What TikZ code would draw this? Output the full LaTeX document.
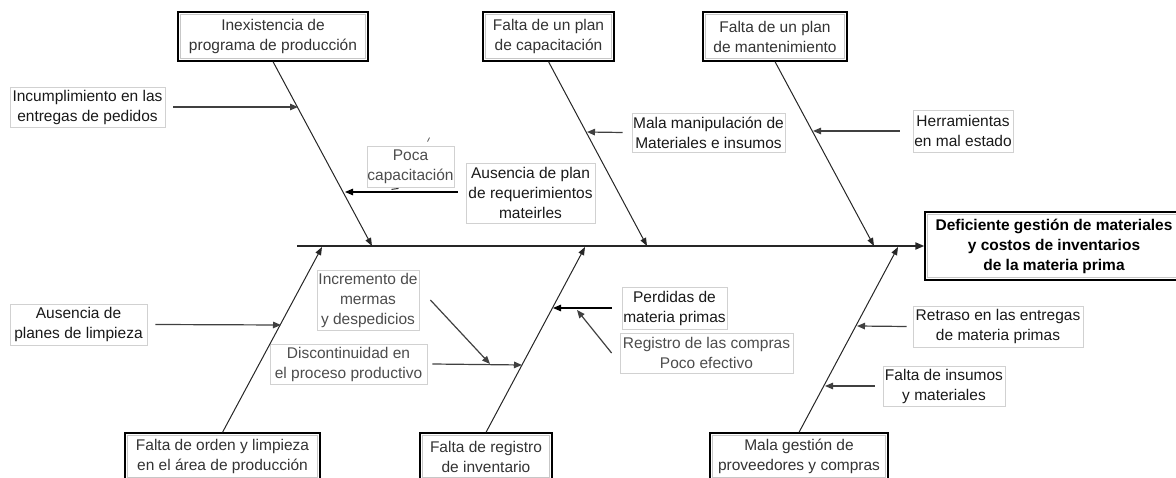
\documentclass[tikz,border=0pt]{standalone}
\usepackage{fontspec}
\setmainfont{Liberation Sans}
\usetikzlibrary{arrows.meta,calc}
\begin{document}
\begin{tikzpicture}[x=1pt,y=-1pt,
  every node/.style={font=\fontsize{15.5}{20}\selectfont, align=center, inner sep=0pt},
  major/.style={draw=black, line width=1.3pt, minimum height=49pt, text=black!80},
  minor/.style={draw=black!18, line width=0.8pt, text=black!90},
  greytext/.style={text=black!70},
  bone/.style={line width=1pt, draw=black!85, -{Triangle[length=8pt,width=6pt]}},
  arr/.style={line width=1.2pt, draw=black!75, -{Triangle[length=8pt,width=6.5pt]}},
  spine/.style={line width=1.8pt, draw=black!85, -{Triangle[length=9pt,width=7pt]}}]
\useasboundingbox (0,0) rectangle (1176,478);
\clip (0,0) rectangle (1176,478);

% major cause boxes
\node[major, minimum width=190pt] (c1) at (273,36.5) {Inexistencia de\\programa de producción};
\node[major, minimum width=131pt] (c2) at (548.5,36.5) {Falta de un plan\\de capacitación};
\node[major, minimum width=144pt] (c3) at (775,36.5) {Falta de un plan\\de mantenimiento};
\node[major, minimum width=195pt, minimum height=47pt] (c4) at (222.5,456.5) {Falta de orden y limpieza\\en el área de producción};
\node[major, minimum width=132pt, minimum height=47pt] (c5) at (486,456.5) {Falta de registro\\de inventario};
\node[major, minimum width=178pt, minimum height=47pt] (c6) at (799,456.5) {Mala gestión de\\proveedores y compras};
% effect
\node[major, minimum width=258pt, minimum height=68pt, text=black, font=\fontsize{15.5}{20}\selectfont\bfseries] (eff) at (1054,246) {Deficiente gestión de materiales\\y costos de inventarios\\de la materia prima};
\foreach \n in {c1,c2,c3,c4,c5,c6,eff}
  \draw[black!22, line width=0.8pt] ([shift={(3pt,-3pt)}]\n.north west) rectangle ([shift={(-3pt,3pt)}]\n.south east);

% minor boxes
\node[minor, minimum width=155pt, minimum height=40pt] (inc) at (87.5,107) {Incumplimiento en las\\entregas de pedidos};
\node[minor, greytext, minimum width=87pt, minimum height=41pt] (poca) at (410.5,166.5) {Poca\\capacitación};
\node[minor, minimum width=129pt, minimum height=60pt] (ausreq) at (530.5,193) {Ausencia de plan\\de requerimientos\\mateirles};
\node[minor, minimum width=153pt, minimum height=39pt] (mala) at (708.5,132.5) {Mala manipulación de\\Materiales e insumos};
\node[minor, minimum width=100pt, minimum height=42pt] (herr) at (963,131) {Herramientas\\en mal estado};
\node[minor, minimum width=137pt, minimum height=41pt] (auslimp) at (78.5,324.5) {Ausencia de\\planes de limpieza};
\node[minor, greytext, minimum width=102pt, minimum height=60pt] (incr) at (368,300) {Incremento de\\mermas\\y despedicios};
\node[minor, greytext, minimum width=157pt, minimum height=40pt] (disc) at (348.5,364) {Discontinuidad en\\el proceso productivo};
\node[minor, minimum width=105pt, minimum height=42pt] (perd) at (674.5,308) {Perdidas de\\materia primas};
\node[minor, greytext, minimum width=173pt, minimum height=40pt] (reg) at (706.5,353) {Registro de las compras\\Poco efectivo};
\node[minor, minimum width=170pt, minimum height=41pt] (retr) at (998,326.5) {Retraso en las entregas\\de materia primas};
\node[minor, minimum width=122pt, minimum height=40pt] (falt) at (944,386) {Falta de insumos\\y materiales};

% spine and bone endpoints
\coordinate (s0) at (297,246);
\coordinate (s1) at (372,246);
\coordinate (s2) at (647,246);
\coordinate (s3) at (874,246);
\coordinate (s4) at (322,247);
\coordinate (s5) at (585,247);
\coordinate (s6) at (898,247);
\draw[spine] (s0) -- (eff.west);
\draw[bone] (c1.south) -- (s1);
\draw[bone] (c2.south) -- (s2);
\draw[bone] (c3.south) -- (s3);
\draw[bone] (c4.north) -- (s4);
\draw[bone] (c5.north) -- (s5);
\draw[bone] (c6.north) -- (s6);

% points on bones
\coordinate (p1) at (298,107);
\coordinate (p2) at (345,192);
\coordinate (p3) at (587,132);
\coordinate (p4) at (813,131);
\coordinate (p5) at (281,325);
\coordinate (p6) at (490,364);
\coordinate (p7) at (522,365);
\coordinate (p8) at (553,308);
\coordinate (p9) at (577,310);
\coordinate (p10) at (857,326);
\coordinate (p11) at (825,386);

\draw[arr] ([xshift=8pt]inc.east) -- (p1);
\draw[arr, draw=black] ([xshift=-8pt]ausreq.west |- p2) -- (p2);
\draw[arr] ([xshift=-9pt]mala.west) -- (p3);
\draw[arr] ([xshift=-13pt]herr.west) -- (p4);
\draw[arr] ([xshift=8pt]auslimp.east) -- (p5);
\draw[arr] ([xshift=11pt]incr.east) -- (p6);
\draw[arr] ([xshift=5pt]disc.east) -- (p7);
\draw[arr, draw=black] ([xshift=-10pt]perd.west) -- (p8);
\draw[arr] ([xshift=-8pt]reg.west) -- (p9);
\draw[arr] ([xshift=-6pt]retr.west) -- (p10);
\draw[arr] ([xshift=-8pt]falt.west) -- (p11);

% small stray strokes near "Poca capacitación"
\draw[black!60, line width=0.8pt] ([shift={(17pt,4pt)}]poca.north) -- ([shift={(19pt,8pt)}]poca.north);
\draw[black!80, line width=1pt] ([shift={(-19pt,-2pt)}]poca.south) -- ([shift={(-12pt,-1pt)}]poca.south);
\end{tikzpicture}
\end{document}
